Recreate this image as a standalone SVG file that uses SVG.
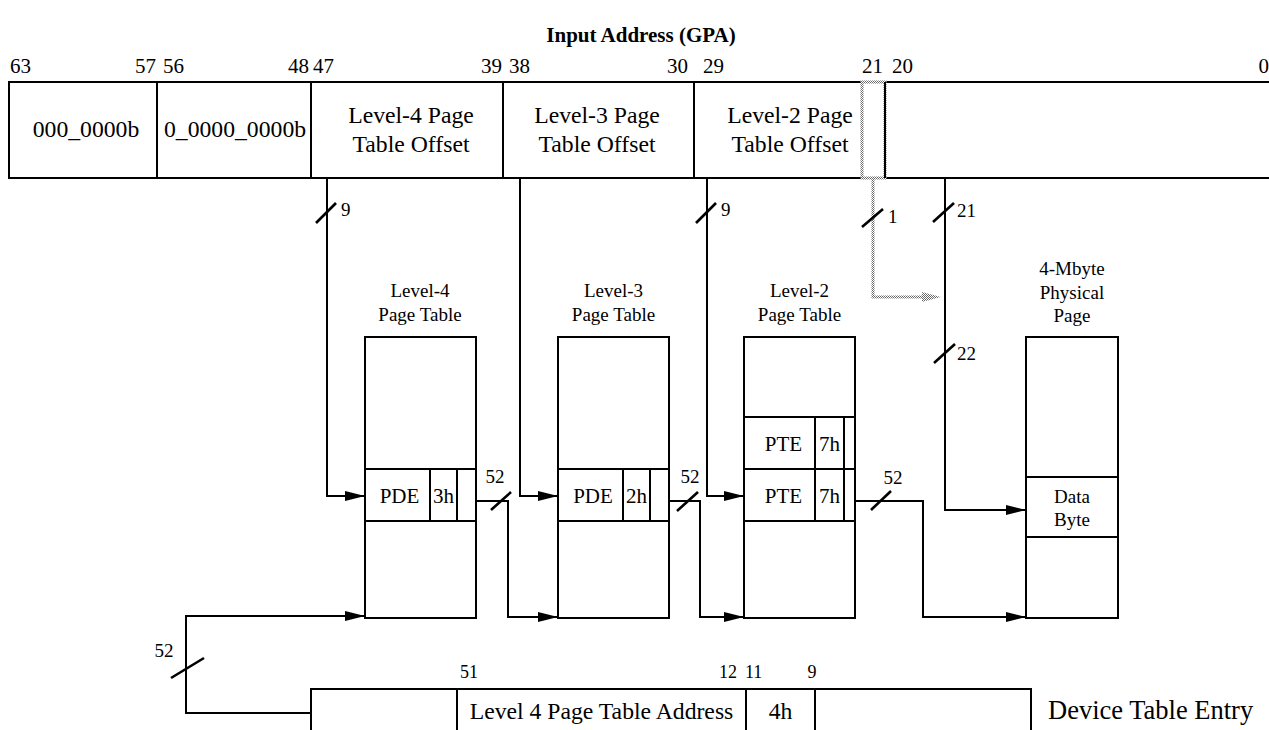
<svg xmlns="http://www.w3.org/2000/svg" width="1269" height="730" viewBox="0 0 1269 730" font-family="'Liberation Serif', 'DejaVu Serif', 'Times New Roman', serif">
<style>
text{font-family:'Liberation Serif','DejaVu Serif','Times New Roman',serif;fill:#000}
.t{font-size:21px;font-weight:bold;text-anchor:middle}
.bit{font-size:21px}
.fld{font-size:23.7px;text-anchor:middle}
.lab{font-size:19px;text-anchor:middle}
.ent{font-size:21px;text-anchor:middle}
.dbit{font-size:18px}
.num{font-size:19px}
.box{fill:none;stroke:#000;stroke-width:2}
.ln{fill:none;stroke:#000;stroke-width:2}
.sl{stroke:#000;stroke-width:2.6}
.arr{fill:none;stroke:#000;stroke-width:2;marker-end:url(#ah)}
.hl{fill:none;stroke:url(#hatch);stroke-width:3}
</style>
<defs>
<pattern id="hatch" width="2" height="2" patternUnits="userSpaceOnUse"><rect width="2" height="2" fill="#fff"/><rect width="1" height="1" fill="#6a6a6a"/><rect x="1" y="1" width="1" height="1" fill="#6a6a6a"/></pattern>
<marker id="ah" markerUnits="userSpaceOnUse" markerWidth="20" markerHeight="10" refX="20" refY="5" orient="auto"><path d="M0,0 L20,5 L0,10 z" fill="#000"/></marker>
</defs>
<rect width="1269" height="730" fill="#fff"/>

<text class="t" x="641" y="42">Input Address (GPA)</text>

<g id="register">
<text class="bit" x="10" y="73">63</text>
<text class="bit" x="156" y="73" text-anchor="end">57</text>
<text class="bit" x="163" y="73">56</text>
<text class="bit" x="309" y="73" text-anchor="end">48</text>
<text class="bit" x="313" y="73">47</text>
<text class="bit" x="502" y="73" text-anchor="end">39</text>
<text class="bit" x="509" y="73">38</text>
<text class="bit" x="688" y="73" text-anchor="end">30</text>
<text class="bit" x="703" y="73">29</text>
<text class="bit" x="883" y="73" text-anchor="end">21</text>
<text class="bit" x="892" y="73">20</text>
<text class="bit" x="1269" y="73" text-anchor="end">0</text>
<path class="ln" d="M1269,82 H9 V178 H1269 M157,82 V178 M311,82 V178 M503,82 V178 M694,82 V178"/>
<rect x="862" y="82" width="23" height="96" class="hl"/>
<path class="ln" d="M885,82 V178"/>
<text class="fld" x="86" y="137">000_0000b</text>
<text class="fld" x="235" y="137">0_0000_0000b</text>
<text class="fld" x="411" y="123">Level-4 Page</text>
<text class="fld" x="411" y="152">Table Offset</text>
<text class="fld" x="597" y="123">Level-3 Page</text>
<text class="fld" x="597" y="152">Table Offset</text>
<text class="fld" x="790" y="123">Level-2 Page</text>
<text class="fld" x="790" y="152">Table Offset</text>
</g>

<g id="l4table">
<text class="lab" x="420" y="297">Level-4</text>
<text class="lab" x="420" y="321">Page Table</text>
<rect class="box" x="365" y="337" width="111" height="281"/>
<path class="ln" d="M365,469 H476 M365,521 H476 M430,469 V521 M457,469 V521"/>
<text class="ent" x="399.5" y="503">PDE</text>
<text class="ent" x="443.5" y="503">3h</text>
</g>

<g id="l3table">
<text class="lab" x="613.5" y="297">Level-3</text>
<text class="lab" x="613.5" y="321">Page Table</text>
<rect class="box" x="558" y="337" width="111" height="281"/>
<path class="ln" d="M558,469 H669 M558,521 H669 M623,469 V521 M650,469 V521"/>
<text class="ent" x="593" y="503">PDE</text>
<text class="ent" x="636.5" y="503">2h</text>
</g>

<g id="l2table">
<text class="lab" x="799.5" y="297">Level-2</text>
<text class="lab" x="799.5" y="321">Page Table</text>
<rect class="box" x="744" y="337" width="111" height="281"/>
<path class="ln" d="M744,417 H855 M744,469 H855 M744,521 H855 M815,417 V521 M844,417 V521"/>
<text class="ent" x="783.5" y="451">PTE</text>
<text class="ent" x="829.5" y="451">7h</text>
<text class="ent" x="783.5" y="503">PTE</text>
<text class="ent" x="829.5" y="503">7h</text>
</g>

<g id="physpage">
<text class="lab" x="1072" y="275">4-Mbyte</text>
<text class="lab" x="1072" y="299">Physical</text>
<text class="lab" x="1072" y="322">Page</text>
<rect class="box" x="1026" y="337" width="92" height="281"/>
<path class="ln" d="M1026,477 H1118 M1026,537 H1118"/>
<text class="lab" x="1072" y="503">Data</text>
<text class="lab" x="1072" y="526">Byte</text>
</g>

<g id="dte">
<text class="dbit" x="460" y="678">51</text>
<text class="dbit" x="737" y="678" text-anchor="end">12</text>
<text class="dbit" x="745" y="678">11</text>
<text class="dbit" x="812" y="678" text-anchor="middle">9</text>
<path class="ln" d="M311,730 V689 H1031 V730 M457,689 V730 M746,689 V730 M815,689 V730"/>
<text class="fld" x="601.5" y="719">Level 4 Page Table Address</text>
<text class="fld" x="780.5" y="719">4h</text>
<text x="1048" y="719" style="font-size:26.5px">Device Table Entry</text>
</g>

<g id="connectors">
<path class="arr" d="M327,178 V496 H365"/>
<path class="arr" d="M520,178 V496 H558"/>
<path class="arr" d="M707,178 V496 H744"/>
<path class="arr" d="M945,178 V510 H1026"/>
<path class="arr" d="M476,501 H508 V617 H558"/>
<path class="arr" d="M669,501 H700 V617 H744"/>
<path class="arr" d="M855,501 H923 V617 H1026"/>
<path class="arr" d="M311,713 H186 V616 H365"/>
<path class="hl" d="M873,178 V297 H922"/>
<polygon points="922,292 941,297 922,302" fill="url(#hatch)"/>
<line class="sl" x1="316" y1="223" x2="336" y2="203"/>
<text class="num" x="341" y="216">9</text>
<line class="sl" x1="696" y1="223" x2="716" y2="203"/>
<text class="num" x="721" y="216">9</text>
<line class="sl" x1="862" y1="227" x2="883" y2="209"/>
<text class="num" x="888" y="223">1</text>
<line class="sl" x1="933" y1="222" x2="954" y2="203"/>
<text class="num" x="957" y="217">21</text>
<line class="sl" x1="934" y1="363" x2="955" y2="344"/>
<text class="num" x="957" y="360">22</text>
<line class="sl" x1="491" y1="510" x2="511" y2="492"/>
<text class="num" x="495" y="483" text-anchor="middle">52</text>
<line class="sl" x1="677" y1="511" x2="698" y2="492"/>
<text class="num" x="690" y="483" text-anchor="middle">52</text>
<line class="sl" x1="871" y1="510" x2="891" y2="491"/>
<text class="num" x="893" y="484" text-anchor="middle">52</text>
<line class="sl" x1="171" y1="678" x2="204" y2="658"/>
<text class="num" x="164" y="657" text-anchor="middle">52</text>
</g>
</svg>
